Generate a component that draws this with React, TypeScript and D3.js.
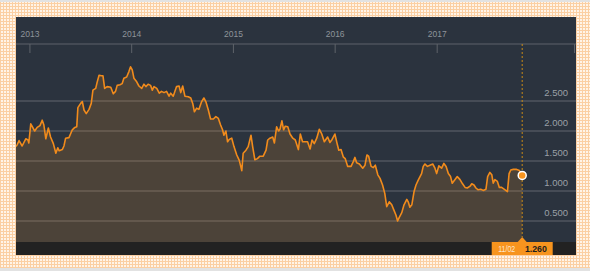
import React from "react";
import * as d3 from "d3";

const dates: string[] = [
  "2012-11-12","2012-11-16","2012-11-23","2012-12-04","2012-12-17","2012-12-25","2012-12-28",
  "2013-01-04","2013-01-18","2013-01-27","2013-02-06","2013-02-14","2013-02-20","2013-02-27",
  "2013-03-08","2013-03-16","2013-03-26","2013-04-04","2013-04-11","2013-04-16","2013-04-27",
  "2013-05-03","2013-05-09","2013-05-21","2013-06-02","2013-06-11","2013-06-18","2013-06-22",
  "2013-07-02","2013-07-08","2013-07-14","2013-07-22","2013-08-01","2013-08-09","2013-08-15",
  "2013-08-25","2013-08-30","2013-09-06","2013-09-14","2013-09-20","2013-09-26","2013-10-05",
  "2013-10-18","2013-10-27","2013-11-04","2013-11-10","2013-11-20","2013-11-28","2013-12-04",
  "2013-12-14","2013-12-22","2013-12-28","2014-01-03","2014-01-09","2014-01-19","2014-01-27",
  "2014-02-06","2014-02-14","2014-02-21","2014-03-01","2014-03-10","2014-03-16","2014-03-22",
  "2014-04-01","2014-04-10","2014-04-18","2014-04-27","2014-05-06","2014-05-15","2014-05-21",
  "2014-05-30","2014-06-11","2014-06-20","2014-06-26","2014-07-03","2014-07-11","2014-07-23",
  "2014-08-01","2014-08-08","2014-08-14","2014-08-22","2014-08-30","2014-09-09","2014-09-17",
  "2014-09-24","2014-10-03","2014-10-11","2014-10-21","2014-10-30","2014-11-08","2014-11-16",
  "2014-11-23","2014-11-28","2014-12-05","2014-12-11","2014-12-17","2014-12-26","2015-01-03",
  "2015-01-13","2015-01-22","2015-01-31","2015-02-05","2015-02-15","2015-02-23","2015-03-05",
  "2015-03-11","2015-03-19","2015-03-28","2015-04-06","2015-04-18","2015-04-28","2015-05-04",
  "2015-05-12","2015-05-22","2015-05-28","2015-06-05","2015-06-12","2015-06-17","2015-06-24",
  "2015-06-30","2015-07-06","2015-07-15","2015-07-23","2015-08-02","2015-08-11","2015-08-22",
  "2015-08-29","2015-09-06","2015-09-16","2015-09-24","2015-10-03","2015-10-10","2015-10-18",
  "2015-10-27","2015-11-05","2015-11-14","2015-11-23","2015-12-05","2015-12-13","2015-12-21",
  "2015-12-31","2016-01-08","2016-01-14","2016-01-22","2016-01-30","2016-02-06","2016-02-15",
  "2016-02-27","2016-03-06","2016-03-12","2016-03-18","2016-03-28","2016-04-09","2016-04-17",
  "2016-04-24","2016-04-30","2016-05-09","2016-05-17","2016-05-24","2016-06-02","2016-06-10",
  "2016-06-19","2016-06-27","2016-07-04","2016-07-13","2016-07-22","2016-07-29","2016-08-06",
  "2016-08-12","2016-08-18","2016-08-27","2016-09-04","2016-09-14","2016-09-19","2016-09-25",
  "2016-10-02","2016-10-10","2016-10-17","2016-10-25","2016-11-06","2016-11-12","2016-11-18",
  "2016-11-27","2016-12-06","2016-12-16","2016-12-24","2016-12-30","2017-01-07","2017-01-17",
  "2017-01-25","2017-02-02","2017-02-10","2017-02-18","2017-02-24","2017-03-06","2017-03-14",
  "2017-03-24","2017-04-02","2017-04-11","2017-04-19","2017-04-29","2017-05-05","2017-05-13",
  "2017-05-20","2017-05-28","2017-06-06","2017-06-15","2017-06-25","2017-07-01","2017-07-09",
  "2017-07-16","2017-07-21","2017-07-27","2017-08-05","2017-08-12","2017-08-20","2017-08-29",
  "2017-09-10","2017-09-16","2017-09-22","2017-10-01","2017-10-13","2017-10-23","2017-11-02",
];

const values: number[] = [
  1.74,1.77,1.84,1.75,1.87,1.85,1.80,
  2.12,2.00,2.06,2.09,2.18,2.10,1.87,
  2.05,1.90,1.79,1.63,1.72,1.67,1.69,
  1.75,1.88,1.89,2.02,2.06,2.07,2.39,
  2.46,2.49,2.35,2.29,2.36,2.46,2.68,
  2.71,2.81,2.93,2.92,2.92,2.71,2.74,
  2.73,2.62,2.66,2.76,2.77,2.79,2.88,
  2.90,2.99,3.07,3.02,2.88,2.82,2.75,
  2.71,2.78,2.74,2.78,2.76,2.68,2.74,
  2.71,2.63,2.66,2.64,2.66,2.58,2.63,
  2.58,2.74,2.75,2.64,2.75,2.58,2.57,
  2.55,2.46,2.32,2.38,2.36,2.49,2.55,
  2.49,2.35,2.20,2.20,2.24,2.21,2.10,
  2.02,1.93,2.00,1.82,1.86,1.88,1.74,
  1.60,1.51,1.34,1.63,1.68,1.74,1.93,
  1.74,1.52,1.54,1.58,1.58,1.68,1.85,
  1.88,1.90,1.80,2.07,2.00,2.03,2.17,
  2.02,2.08,2.07,1.95,1.88,1.85,1.69,
  1.95,1.82,1.82,1.82,1.70,1.85,1.79,
  1.88,2.03,1.95,1.82,1.90,1.81,1.86,
  1.95,1.79,1.68,1.69,1.57,1.54,1.41,
  1.41,1.49,1.56,1.47,1.45,1.38,1.43,
  1.60,1.58,1.41,1.39,1.43,1.27,1.21,
  1.10,0.96,0.74,0.82,0.77,0.69,0.60,
  0.50,0.56,0.64,0.77,0.86,0.82,0.73,
  0.77,0.99,1.10,1.18,1.29,1.41,1.45,
  1.41,1.43,1.45,1.38,1.29,1.42,1.38,
  1.46,1.41,1.29,1.24,1.13,1.19,1.24,
  1.19,1.12,1.06,1.05,1.08,1.12,1.10,
  1.05,1.02,1.03,1.01,1.03,1.24,1.31,
  1.27,1.13,1.19,1.16,1.06,1.06,1.03,
  0.99,1.29,1.35,1.36,1.36,1.34,1.26,
];

const xDomain: string[] = ["2012-11-12", "2018-05-14"];
const yDomain: number[] = [0.15, 3.45];
const yTicks: number[] = [0.5, 1.0, 1.5, 2.0, 2.5];
const yearTicks: string[] = ["2013", "2014", "2015", "2016", "2017"];
const tooltipDate = "11/02";
const tooltipValue = 1.26;

const W = 590;
const H = 271;
const panel = { left: 16, right: 576, top: 17, bottom: 255 };
const plotTop = 44;
const plotBottom = 242;

export default function App() {
  const parse = d3.utcParse("%Y-%m-%d");
  const data = dates.map((d, i) => ({ date: parse(d) as Date, value: values[i] }));
  const x = d3
    .scaleUtc()
    .domain(xDomain.map((d) => parse(d) as Date))
    .range([panel.left, panel.right]);
  const y = d3.scaleLinear().domain(yDomain).range([plotBottom, plotTop]);

  const area = d3
    .area<{ date: Date; value: number }>()
    .x((d) => x(d.date))
    .y0(plotBottom)
    .y1((d) => y(d.value));
  const line = d3
    .line<{ date: Date; value: number }>()
    .x((d) => x(d.date))
    .y((d) => y(d.value));

  const last = data[data.length - 1];
  const lx = x(last.date);
  const ly = y(tooltipValue);
  const fmt = d3.format(".3f");
  const font = "'Liberation Sans', Arial, sans-serif";

  return (
    <svg
      width={W}
      height={H}
      style={{ position: "absolute", left: 0, top: 0, display: "block" }}
    >
      <defs>
        <pattern id="chk" width="3" height="3" patternUnits="userSpaceOnUse">
          <rect width="3" height="3" fill="#fff4e8" />
          <rect x="0" y="0" width="1" height="3" fill="#fbcfa3" />
          <rect x="0" y="0" width="3" height="1" fill="#fbcfa3" />
        </pattern>
        <clipPath id="plotclip">
          <rect x={panel.left} y={plotTop} width={panel.right - panel.left} height={plotBottom - plotTop} />
        </clipPath>
      </defs>
      <rect x={0} y={0} width={W} height={H} fill="#e2e2e2" />
      <rect x={0} y={2} width={W} height={266} fill="url(#chk)" />
      <rect
        x={panel.left}
        y={panel.top}
        width={panel.right - panel.left}
        height={panel.bottom - panel.top}
        fill="#2b333e"
      />
      {/* top axis */}
      <line x1={panel.left} x2={panel.right} y1={plotTop} y2={plotTop} stroke="#5e636a" strokeWidth={1} />
      {yearTicks.map((t) => {
        const tx = x(parse(`${t}-01-01`) as Date);
        return (
          <g key={t}>
            <line x1={tx} x2={tx} y1={plotTop} y2={plotTop + 9} stroke="#5e636a" strokeWidth={1} />
            <text x={tx} y={37} textAnchor="middle" fill="#8e939a" fontSize={8.5} fontFamily={font}>
              {t}
            </text>
          </g>
        );
      })}
      <line x1={panel.right - 1.5} x2={panel.right - 1.5} y1={plotTop} y2={plotTop + 9} stroke="#5e636a" />
      {/* grid */}
      {yTicks.map((t) => (
        <line
          key={t}
          x1={panel.left}
          x2={panel.right}
          y1={y(t)}
          y2={y(t)}
          stroke="#62676e"
          strokeWidth={1}
        />
      ))}
      <g clipPath="url(#plotclip)">
        <path d={area(data) || ""} fill="#f39323" fillOpacity={0.17} />
        <path d={line(data) || ""} fill="none" stroke="#f18b1c" strokeWidth={1.6} strokeLinejoin="round" />
      </g>
      {yTicks.map((t) => (
        <text
          key={t}
          x={568}
          y={y(t) - 5.5}
          textAnchor="end"
          fill="#9aa0a7"
          fontSize={9.5}
          fontFamily={font}
        >
          {fmt(t)}
        </text>
      ))}
      {/* bottom strip */}
      <rect x={panel.left} y={plotBottom} width={panel.right - panel.left} height={panel.bottom - plotBottom} fill="#222222" />
      {/* crosshair */}
      <line x1={lx} x2={lx} y1={plotTop} y2={plotBottom - 5} stroke="#c98a17" strokeWidth={1} strokeDasharray="2,2" />
      <circle cx={lx} cy={ly} r={4} fill="#f7941e" stroke="#ffffff" strokeWidth={1.5} />
      {/* tooltip */}
      <path
        d={`M${lx - 4.5},${plotBottom} L${lx},${plotBottom - 5} L${lx + 4.5},${plotBottom} Z`}
        fill="#f7941e"
      />
      <rect x={lx - 30.5} y={plotBottom} width={61} height={13} fill="#f7941e" />
      <text x={lx - 24} y={plotBottom + 9.5} fill="#fde6cc" fontSize={9} fontFamily={font} textLength={17} lengthAdjust="spacingAndGlyphs">
        {tooltipDate}
      </text>
      <text x={lx + 2.7} y={plotBottom + 9.5} fill="#1e1e1e" fontSize={9} fontWeight="bold" fontFamily={font} textLength={22} lengthAdjust="spacingAndGlyphs">
        {fmt(tooltipValue)}
      </text>
    </svg>
  );
}
